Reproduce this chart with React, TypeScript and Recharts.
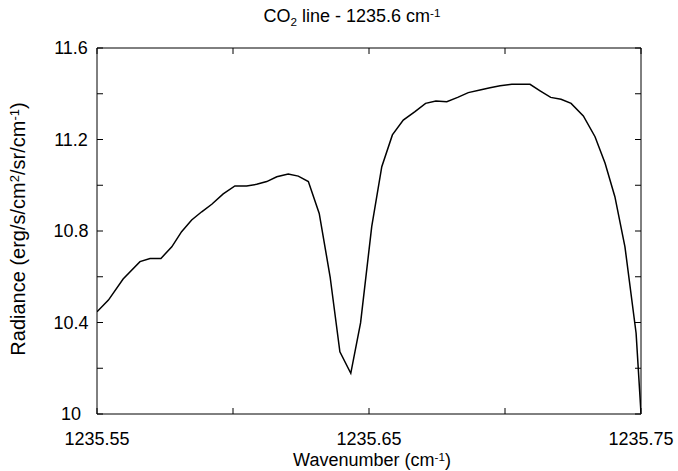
import React from 'react';
import { LineChart, Line, XAxis, YAxis } from 'recharts';

// CO2 line profile
const wavenumbers = [
  1235.55, 1235.5542, 1235.5596, 1235.5658, 1235.5695, 1235.5735, 1235.5775, 1235.5811, 1235.5848, 1235.5885,
  1235.5922, 1235.5964, 1235.6007, 1235.605, 1235.6087, 1235.6124, 1235.6161, 1235.6203, 1235.624, 1235.6277,
  1235.6317, 1235.6357, 1235.6393, 1235.6433, 1235.6469, 1235.651, 1235.6547, 1235.6586, 1235.6626, 1235.6669,
  1235.6708, 1235.6746, 1235.6786, 1235.6826, 1235.6865, 1235.6908, 1235.6945, 1235.6982, 1235.7025, 1235.7055,
  1235.7092, 1235.7129, 1235.7168, 1235.7206, 1235.7243, 1235.7288, 1235.7331, 1235.7368, 1235.7404, 1235.7441,
  1235.7482, 1235.75,
];

const radiance = [
  10.447, 10.498, 10.59, 10.666, 10.68, 10.68, 10.731, 10.797, 10.848, 10.884,
  10.917, 10.962, 10.997, 10.997, 11.004, 11.016, 11.037, 11.049, 11.04, 11.016,
  10.877, 10.6, 10.272, 10.178, 10.398, 10.819, 11.081, 11.22, 11.285, 11.322,
  11.358, 11.368, 11.365, 11.384, 11.405, 11.416, 11.426, 11.435, 11.441, 11.441,
  11.441, 11.413, 11.384, 11.376, 11.358, 11.303, 11.212, 11.096, 10.95, 10.731,
  10.353, 10.004,
];

const xTicks = [1235.55, 1235.6, 1235.65, 1235.7, 1235.75];
const xTickLabels = ['1235.55', '', '1235.65', '', '1235.75'];
const yTicks = [10, 10.2, 10.4, 10.6, 10.8, 11, 11.2, 11.4, 11.6];
const yTickLabels = ['10', '', '10.4', '', '10.8', '', '11.2', '', '11.6'];

const FONT = '"Liberation Sans", Arial, sans-serif';

const data = wavenumbers.map((w, i) => ({ w, r: radiance[i] }));

const findLabel = (ticks: number[], labels: string[], value: number) => {
  const idx = ticks.findIndex((t) => Math.abs(t - value) < 1e-6);
  return idx >= 0 ? labels[idx] : '';
};

const YTick = (props: any) => {
  const { x, y, payload } = props;
  const label = findLabel(yTicks, yTickLabels, payload.value);
  return (
    <text x={x - 18} y={y} dy="0.36em" textAnchor="middle" fontSize={18} fill="#000" fontFamily={FONT}>
      {label}
    </text>
  );
};

const small = { fontSize: '0.65em', position: 'relative' as const };

const App: React.FC = () => {
  return (
    <div style={{ position: 'absolute', left: 0, top: 0, width: 678, height: 471, background: '#fff', fontFamily: FONT }}>
      <LineChart width={678} height={471} data={data} margin={{ top: 47, right: 36, bottom: 27, left: 37 }}>
        <XAxis
          dataKey="w"
          type="number"
          domain={[1235.55, 1235.75]}
          allowDataOverflow
          ticks={xTicks}
          interval={0}
          height={30}
          tickSize={-6}
          tickMargin={24}
          tickFormatter={(v: number) => findLabel(xTicks, xTickLabels, v)}
          tick={{ fontSize: 18, fill: '#000', fontFamily: FONT }}
          stroke="#000"
        />
        <XAxis
          xAxisId="top"
          orientation="top"
          dataKey="w"
          type="number"
          domain={[1235.55, 1235.75]}
          allowDataOverflow
          ticks={xTicks}
          interval={0}
          height={1}
          tickSize={-6}
          tickFormatter={() => ''}
          stroke="#000"
        />
        <YAxis
          type="number"
          domain={[10, 11.6]}
          allowDataOverflow
          ticks={yTicks}
          interval={0}
          width={60}
          tickSize={-6}
          tickMargin={14}
          tick={<YTick />}
          stroke="#000"
        />
        <YAxis
          yAxisId="right"
          orientation="right"
          type="number"
          domain={[10, 11.6]}
          allowDataOverflow
          ticks={yTicks}
          interval={0}
          width={1}
          tickSize={-6}
          tickFormatter={() => ''}
          stroke="#000"
        />
        {/* invisible copy so the top and right frame axes get drawn */}
        <Line xAxisId="top" yAxisId="right" type="linear" dataKey="r" stroke="none" dot={false} activeDot={false} isAnimationActive={false} />
        <Line type="linear" dataKey="r" stroke="#000" strokeWidth={1.5} dot={false} isAnimationActive={false} />
      </LineChart>

      {/* title and axis titles */}
      <div style={{ position: 'absolute', left: 202, top: 5, width: 300, textAlign: 'center', fontSize: 18, lineHeight: '22px', color: '#000' }}>
        CO<span style={{ ...small, top: '0.35em' }}>2</span> line - 1235.6 cm<span style={{ ...small, top: '-0.45em' }}>-1</span>
      </div>
      <div style={{ position: 'absolute', left: 222, top: 449, width: 300, textAlign: 'center', fontSize: 18, lineHeight: '22px', color: '#000' }}>
        Wavenumber (cm<span style={{ ...small, top: '-0.45em' }}>-1</span>)
      </div>
      <div
        style={{
          position: 'absolute',
          left: 18 - 160,
          top: 229 - 12,
          width: 320,
          height: 24,
          textAlign: 'center',
          fontSize: 20,
          lineHeight: '24px',
          color: '#000',
          transform: 'rotate(-90deg)',
        }}
      >
        Radiance (erg/s/cm<span style={{ ...small, top: '-0.45em' }}>2</span>/sr/cm<span style={{ ...small, top: '-0.45em' }}>-1</span>)
      </div>
    </div>
  );
};

export default App;
